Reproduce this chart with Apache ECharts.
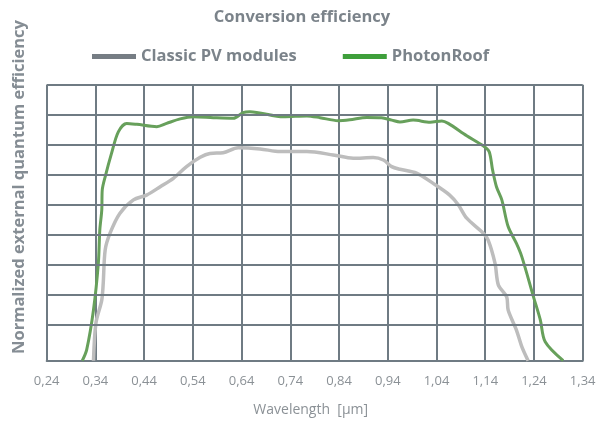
<!DOCTYPE html>
<html>
<head>
<meta charset="utf-8">
<script src="https://cdn.jsdelivr.net/npm/echarts@6/dist/echarts.min.js"></script>
<style>
html,body{margin:0;padding:0;background:#fff;}
#chart{width:607px;height:423px;}
</style>
</head>
<body>
<div id="chart"></div>
<script>
// Tick labels along the wavelength axis (µm)
const xTickLabels = ['0,24','0,34','0,44','0,54','0,64','0,74','0,84','0,94','1,04','1,14','1,24','1,34'];
// Horizontal grid line levels (unlabelled normalized scale)
const yGridValues = [12, 22, 32, 42, 52, 62, 72, 82, 92];

// Classic PV modules: wavelength (µm) and normalized EQE
const classicX = [0.336,0.341,0.353,0.356,0.360,0.370,0.390,0.418,0.445,0.473,0.500,0.527,0.555,0.575,0.602,0.633,0.678,0.719,0.774,0.828,0.869,0.910,0.931,0.948,0.965,0.999,1.033,1.067,1.085,1.102,1.136,1.146,1.160,1.167,1.184,1.187,1.204,1.215,1.228];
const classicY = [0,12.5,20.2,25.8,36.9,42.5,49.1,53.6,55.2,58.0,60.8,64.7,67.8,69.1,69.3,71.0,70.6,69.7,69.7,68.6,67.5,67.7,66.9,64.7,63.8,62.5,59.1,55.2,51.9,47.5,42.5,40.2,32.5,25.2,21.3,16.9,10.2,4.7,0];

// PhotonRoof
const photonX = [0.313,0.322,0.336,0.346,0.349,0.353,0.354,0.360,0.373,0.387,0.404,0.425,0.466,0.486,0.514,0.541,0.582,0.623,0.643,0.657,0.726,0.774,0.801,0.838,0.862,0.897,0.927,0.948,0.965,0.992,1.027,1.051,1.064,1.102,1.136,1.148,1.155,1.163,1.174,1.187,1.204,1.215,1.239,1.253,1.263,1.300];
const photonY = [0,3.6,16.9,32.5,43.6,50.2,56.9,61.3,69.1,76.3,79.1,78.8,78.0,79.1,80.6,81.3,81.0,80.8,82.7,83.0,81.3,81.6,81.0,80.0,80.3,81.1,81.0,80.2,79.6,80.2,79.5,79.9,79.1,75.0,71.6,69.7,63.6,58.0,53.6,44.7,39.1,34.7,21.3,13.6,6.3,0];

const seriesNames = ['Classic PV modules', 'PhotonRoof'];
const lineColors = ['#bdbdbd', '#67a05b'];
const legendColors = ['#767d84', '#3e9f3b'];
const gridColor = '#6f7b83';
const FONT = 'Open Sans';

const zip = (xs, ys) => xs.map((x, i) => [x, ys[i]]);

const chart = echarts.init(document.getElementById('chart'), null, {renderer: 'canvas'});
chart.setOption({
  animation: false,
  backgroundColor: '#ffffff',
  title: {
    text: 'Conversion efficiency',
    left: 297,
    textAlign: 'center',
    top: 4,
    textStyle: {fontFamily: FONT, fontWeight: 'bold', fontSize: 16.5, color: '#7b838a'}
  },
  legend: {
    left: 87,
    top: 43,
    icon: 'rect',
    itemWidth: 44,
    itemHeight: 5,
    itemGap: 46,
    data: [
      {name: seriesNames[0], itemStyle: {color: legendColors[0]}},
      {name: seriesNames[1], itemStyle: {color: legendColors[1]}}
    ],
    textStyle: {fontFamily: FONT, fontWeight: 'bold', fontSize: 16.5, color: '#7b838a'}
  },
  graphic: [{
    type: 'text',
    x: 19,
    y: 187,
    rotation: Math.PI / 2,
    style: {
      text: 'Normalized external quantum efficiency',
      fontFamily: FONT, fontWeight: 'bold', fontSize: 16.5, fill: '#858d94',
      align: 'center', verticalAlign: 'middle'
    }
  }],
  grid: {left: 46.7, right: 24.3, top: 84.7, bottom: 62.3},
  xAxis: [{
    type: 'category',
    data: xTickLabels,
    boundaryGap: false,
    axisLine: {show: true, lineStyle: {color: gridColor, width: 2}},
    axisTick: {show: false},
    splitLine: {show: true, lineStyle: {color: gridColor, width: 2}},
    axisLabel: {interval: 0, color: '#8b9196', fontFamily: FONT, fontSize: 13, margin: 14},
    name: 'Wavelength  [µm]',
    nameLocation: 'middle',
    nameGap: 42,
    nameTextStyle: {color: '#8b9196', fontFamily: FONT, fontSize: 14, padding: [0, 8, 0, 0]}
  }, {
    type: 'value',
    min: 0.24,
    max: 1.34,
    show: false
  }],
  yAxis: {
    type: 'value',
    min: 0,
    max: 92,
    axisLine: {show: false},
    axisTick: {show: false},
    axisLabel: {show: false},
    splitLine: {show: false}
  },
  series: [{
    name: 'grid',
    type: 'line',
    xAxisIndex: 1,
    data: [],
    z: 1,
    silent: true,
    markLine: {
      silent: true,
      symbol: ['none', 'none'],
      label: {show: false},
      lineStyle: {color: gridColor, width: 2, type: 'solid'},
      data: yGridValues.map(v => ({yAxis: v}))
    }
  }, {
    name: seriesNames[0],
    type: 'line',
    xAxisIndex: 1,
    data: zip(classicX, classicY),
    showSymbol: false,
    smooth: 0.3,
    z: 3,
    lineStyle: {color: lineColors[0], width: 3.5},
    itemStyle: {color: lineColors[0]}
  }, {
    name: seriesNames[1],
    type: 'line',
    xAxisIndex: 1,
    data: zip(photonX, photonY),
    showSymbol: false,
    smooth: 0.3,
    z: 4,
    lineStyle: {color: lineColors[1], width: 3},
    itemStyle: {color: lineColors[1]}
  }]
});
</script>
</body>
</html>
